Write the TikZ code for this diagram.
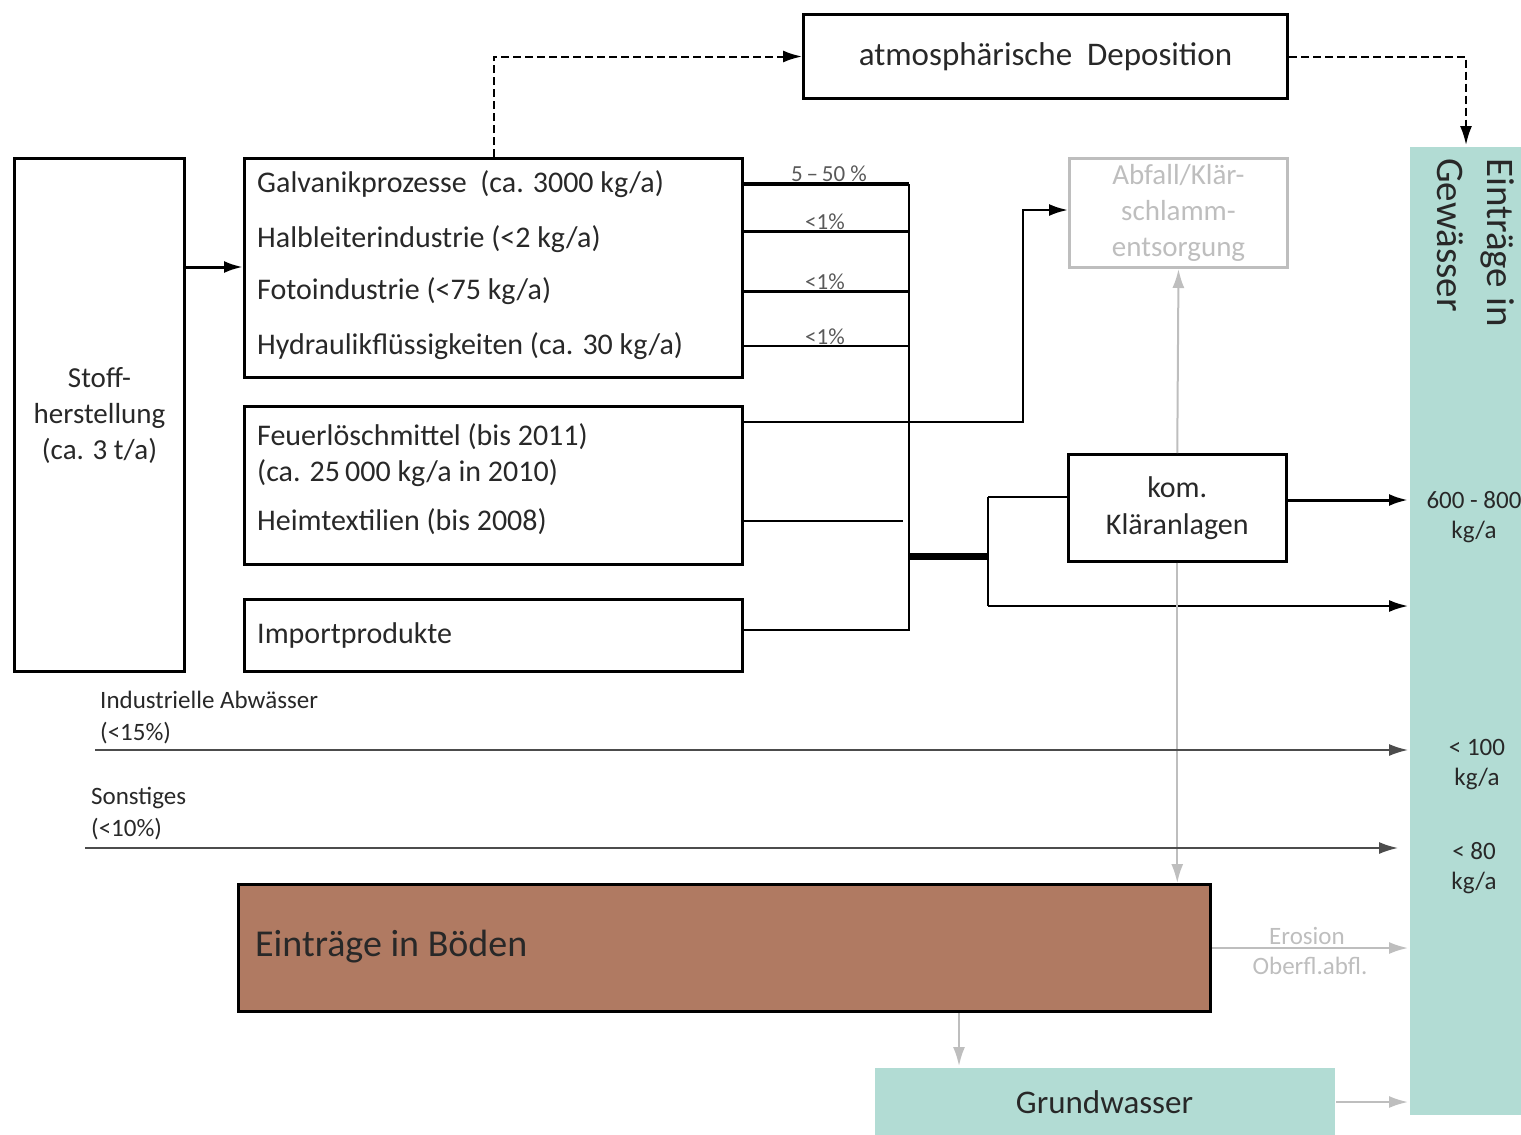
\documentclass[tikz,border=0pt]{standalone}
\usepackage{fontspec}
\setmainfont{Carlito}
\usetikzlibrary{positioning,arrows.meta}
\definecolor{wasser}{RGB}{178,220,212}
\definecolor{boden}{RGB}{176,122,98}
\definecolor{hell}{RGB}{190,190,190}
\definecolor{schrift}{RGB}{40,40,40}

\begin{document}
\begin{tikzpicture}[x=1pt,y=-1pt,
  box/.style={draw,line width=3pt,anchor=north west,inner sep=0pt,text=schrift},
  lbl/.style={anchor=west,inner sep=0pt,text=schrift,font=\fontsize{30}{36}\selectfont},
  pct/.style={anchor=base,inner sep=0pt,text=black!65,font=\fontsize{23}{26}\selectfont},
  fracht/.style={align=center,inner sep=0pt,text=schrift,font=\fontsize{25}{30}\selectfont},
  flow/.style={line width=1.5pt},
  strich/.style={line width=2pt,dash pattern=on 8pt off 4pt},
  pfeil/.style={-{Latex[length=19pt,width=12pt]}},
  grau/.style={draw=hell,line width=2pt,-{Latex[length=19pt,width=12pt]}}
]
\useasboundingbox (0,0) rectangle (1521,1135);

% Kaesten
\node[box,minimum width=170pt,minimum height=513pt,align=center,
  font=\fontsize{29}{36}\selectfont] (stoff) at (13,157) {Stoff-\\herstellung\\(ca. 3 t/a)};
\node[box,minimum width=498pt,minimum height=219pt] (g1) at (243,157) {};
\node[box,minimum width=498pt,minimum height=158pt] (g2) at (243,405) {};
\node[box,minimum width=498pt,minimum height=72pt] (g3) at (243,598) {};
\node[box,minimum width=484pt,minimum height=84pt,
  font=\fontsize{33}{38}\selectfont] (atm) at (802,13) {atmosphärische~~Deposition};
\node[box,draw=hell,text=hell,minimum width=218pt,minimum height=109pt,align=center,
  font=\fontsize{29}{36}\selectfont] (abfall) at (1068,157) {Abfall/Klär-\\schlamm-\\entsorgung};
\node[box,line width=2.5pt,minimum width=218pt,minimum height=107pt,align=center,
  font=\fontsize{30}{37}\selectfont] (klaer) at (1067,453) {kom.\\Kläranlagen};
\node[box,draw=none,fill=wasser,minimum width=113pt,minimum height=968pt] (gew) at (1408,145) {};
\node[box,fill=boden,minimum width=972pt,minimum height=127pt] (bod) at (237,883) {};
\node[box,draw=none,fill=wasser,minimum width=460pt,minimum height=69pt,
  font=\fontsize{33}{38}\selectfont] (grund) at (873,1066) {Grundwasser};

% Texte
\node[lbl] (galv) at (257,184) {Galvanikprozesse~ (ca. 3000 kg/a)};
\node[lbl] (halb) at (257,239) {Halbleiterindustrie (<2 kg/a)};
\node[lbl] (foto) at (257,291) {Fotoindustrie (<75 kg/a)};
\node[lbl] (hydr) at (257,346) {Hydraulikflüssigkeiten (ca. 30 kg/a)};
\node[lbl] (feuer) at (257,437) {Feuerlöschmittel (bis 2011)};
\node[lbl] (feuer2) at (257,473) {(ca. 25\,000 kg/a in 2010)};
\node[lbl] (heim) at (257,522) {Heimtextilien (bis 2008)};
\node[lbl] (imp) at (257,635) {Importprodukte};
\node[lbl,font=\fontsize{38}{44}\selectfont] (bodtxt) at (255,947) {Einträge in Böden};
\node[rotate=-90,anchor=north west,inner sep=0pt,align=left,text=schrift,
  font=\fontsize{39}{50}\selectfont] (gewtxt) at (1515,158) {Einträge in\\Gewässer};

% Verzweigungen
\coordinate (ja) at (909,184);
\coordinate (jb) at (909,231);
\coordinate (jc) at (909,291);
\coordinate (jd) at (909,346);
\coordinate (je) at (909,630);
\coordinate (jm) at (909,556);
\coordinate (jk) at (988,556);
\coordinate (jt) at (988,497);
\coordinate (ju) at (988,606);
\coordinate (jh) at (903,521);
\coordinate (jf) at (1023,422);
\coordinate (jg) at (1023,210);
\coordinate (sa) at (0,267);
\coordinate (ka) at (0,500);
\coordinate (ia) at (95,750);
\coordinate (sb) at (85,848);
\coordinate (bg) at (959,0);

\draw[line width=3pt,pfeil] (stoff.east |- sa) -- (g1.west |- sa);
\draw[strich,pfeil] (g1.north) |- (atm.west);
\draw[strich,pfeil] (atm.east) -| (gew.north);

\draw[line width=4pt] (g1.east |- ja) -- (ja);
\draw[line width=3pt] (g1.east |- jb) -- (jb);
\draw[line width=3pt] (g1.east |- jc) -- (jc);
\draw[flow] (g1.east |- jd) -- (jd);
\draw[flow] (ja) -- (je) -- (g3.east |- je);
\draw[flow] (g2.east |- jh) -- (jh);
\node[pct] (p1) at (829,181) {5\,–\,50 \%};
\node[pct] (p2) at (825,229) {<1\%};
\node[pct] (p3) at (825,289) {<1\%};
\node[pct] (p4) at (825,344) {<1\%};

\draw[line width=2.5pt,pfeil] (g2.east |- jf) -- (jf) -- (jg) -- (abfall.west |- jg);
\draw[line width=7pt] (jm) -- (jk);
\draw[line width=2pt] (jt) -- (ju);
\draw[line width=2pt] (jt) -- (klaer.west |- jt);
\draw[line width=2pt,pfeil] (ju) -- (gew.west |- ju);
\draw[line width=3pt,pfeil] (klaer.east |- ka) -- (gew.west |- ka);

\draw[grau] (klaer.north) -- (abfall.south);
\draw[grau] (klaer.south) -- (bod.north -| klaer.south);
\draw[grau] (bod.east) -- (gew.west |- bod.east);
\draw[grau] (bod.south -| bg) -- (grund.north -| bg);
\draw[grau] (grund.east) -- (gew.west |- grund.east);
\node[inner sep=0pt,text=hell,font=\fontsize{25}{28}\selectfont] (ero) at (1307,936) {Erosion};
\node[inner sep=0pt,text=hell,font=\fontsize{25}{28}\selectfont] (obf) at (1310,966) {Oberfl.abfl.};

\draw[line width=1.8pt,draw=black!70,pfeil] (ia) -- (gew.west |- ia);
\draw[line width=1.8pt,draw=black!70,pfeil] (sb) -- ([xshift=-10pt]gew.west |- sb);
\node[anchor=south west,inner sep=0pt,align=left,text=schrift,
  font=\fontsize{25}{32}\selectfont] (indtxt) at (100,744) {Industrielle Abwässer\\(<15\%)};
\node[anchor=south west,inner sep=0pt,align=left,text=schrift,
  font=\fontsize{25}{32}\selectfont] (sontxt) at (91,840) {Sonstiges\\(<10\%)};

% Frachten
\node[fracht] (f1) at (1474,517) {600 - 800\\kg/a};
\node[fracht] (f2) at (1477,765) {< 100\\kg/a};
\node[fracht] (f3) at (1474,868) {< 80\\kg/a};
\end{tikzpicture}
\end{document}
